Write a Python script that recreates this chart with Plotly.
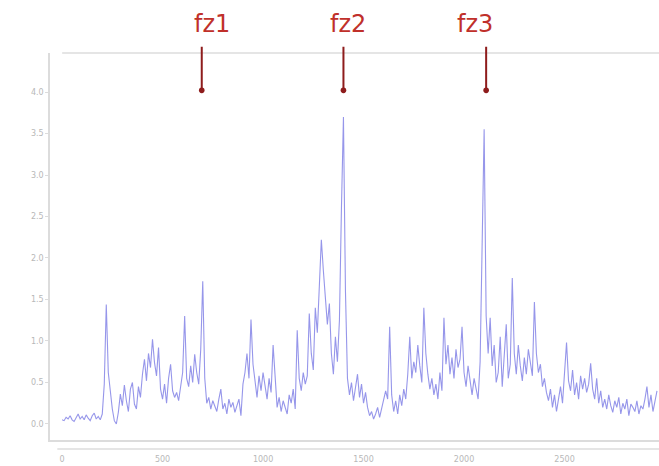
import numpy as np
import plotly.graph_objects as go

# Spectrum amplitude, sampled every 10 units of frequency starting at 0
amplitude = [
    0.05, 0.04, 0.08, 0.06, 0.10, 0.05, 0.03, 0.07, 0.12, 0.06,
    0.09, 0.05, 0.11, 0.07, 0.04, 0.10, 0.13, 0.06, 0.09, 0.05,
    0.12, 0.48, 1.44, 0.62, 0.38, 0.18, 0.04, 0.00, 0.14, 0.36,
    0.22, 0.47, 0.28, 0.15, 0.42, 0.50, 0.24, 0.18, 0.45, 0.32,
    0.60, 0.78, 0.52, 0.85, 0.68, 1.02, 0.74, 0.58, 0.92, 0.42,
    0.30, 0.48, 0.25, 0.55, 0.72, 0.40, 0.32, 0.38, 0.28, 0.45,
    0.62, 1.30, 0.55, 0.45, 0.70, 0.50, 0.84, 0.62, 0.48, 0.90,
    1.72, 0.55, 0.25, 0.32, 0.18, 0.28, 0.20, 0.15, 0.30, 0.42,
    0.18, 0.25, 0.12, 0.30, 0.20, 0.26, 0.14, 0.22, 0.30, 0.10,
    0.48, 0.62, 0.85, 0.55, 1.26, 0.72, 0.50, 0.32, 0.58, 0.40,
    0.62, 0.45, 0.30, 0.55, 0.38, 0.95, 0.50, 0.20, 0.32, 0.15,
    0.28, 0.20, 0.12, 0.35, 0.25, 0.42, 0.18, 1.13, 0.55, 0.40,
    0.62, 0.48, 0.58, 1.33, 0.85, 0.65, 1.40, 1.10, 1.75, 2.22,
    1.85, 1.50, 1.20, 1.45, 0.85, 0.60, 1.05, 0.75, 1.25, 2.60,
    3.70, 1.60, 0.55, 0.35, 0.50, 0.28, 0.45, 0.60, 0.32, 0.48,
    0.25, 0.38, 0.20, 0.10, 0.15, 0.06, 0.12, 0.20, 0.08, 0.18,
    0.28, 0.40, 0.30, 1.17, 0.35, 0.15, 0.28, 0.12, 0.35, 0.22,
    0.42, 0.30, 0.60, 1.05, 0.55, 0.75, 0.62, 0.95, 0.70, 0.50,
    1.40, 0.85, 0.60, 0.42, 0.55, 0.35, 0.48, 0.30, 0.62, 0.40,
    1.28, 0.72, 0.95, 0.60, 0.80, 0.55, 0.90, 0.68, 0.78, 1.17,
    0.62, 0.45, 0.70, 0.50, 0.35, 0.55, 0.40, 0.30, 0.75, 2.40,
    3.55, 1.30, 0.85, 1.28, 0.70, 0.95, 0.50, 0.62, 1.05, 0.45,
    0.80, 1.20, 0.55, 0.72, 1.76, 0.85, 0.60, 0.95, 0.70, 0.52,
    0.80, 0.60, 0.90, 0.75, 0.58, 1.47, 0.85, 0.62, 0.72, 0.45,
    0.55, 0.38, 0.28, 0.42, 0.20, 0.35, 0.15, 0.30, 0.45, 0.25,
    0.60, 0.98, 0.52, 0.40, 0.65, 0.35, 0.50, 0.30, 0.58, 0.42,
    0.55, 0.38, 0.48, 0.73, 0.42, 0.30, 0.55, 0.25, 0.40, 0.20,
    0.30, 0.18, 0.35, 0.22, 0.14, 0.28, 0.20, 0.32, 0.12, 0.25,
    0.18, 0.30, 0.10, 0.24, 0.20, 0.15, 0.28, 0.12, 0.22, 0.18,
    0.30, 0.45, 0.20, 0.35, 0.15, 0.28, 0.40,
]
freq_step = 10
frequency = np.arange(len(amplitude)) * freq_step

# Marked characteristic frequencies
marker_names = ["fz1", "fz2", "fz3"]
marker_freqs = [695, 1400, 2110]
marker_level = 4.02

y_ticks = [0.0, 0.5, 1.0, 1.5, 2.0, 2.5, 3.0, 3.5, 4.0]
x_ticks = [0, 500, 1000, 1500, 2000, 2500, 3000]

fig = go.Figure()
fig.add_trace(go.Scatter(
    x=frequency, y=amplitude, mode="lines",
    line=dict(color="rgba(105,105,225,0.7)", width=1.1),
    hoverinfo="skip", showlegend=False,
))

text_shift = [10, 5, -11]
for name, f, dx in zip(marker_names, marker_freqs, text_shift):
    fig.add_annotation(
        x=f, y=marker_level, xref="x", yref="y",
        ax=0, ay=-45, text="", showarrow=True,
        arrowhead=6, arrowsize=0.7, arrowwidth=2, arrowcolor="#8e1c1c",
    )
    fig.add_annotation(
        x=f, y=1.0, xref="x", yref="paper", yshift=29, xshift=dx,
        text=name, showarrow=False, yanchor="middle",
        font=dict(family="DejaVu Sans", size=24, color="#c0302a"),
    )

axis_grey = "#dcdcdc"
# frame lines above the plot and under the frequency axis
fig.add_shape(type="line", xref="paper", yref="paper", x0=0.02, x1=1, y0=1, y1=1,
              line=dict(color=axis_grey, width=1.5))
fig.add_shape(type="line", xref="paper", yref="paper", x0=0.012, x1=1,
              y0=-0.023, y1=-0.023, line=dict(color=axis_grey, width=1.5))

fig.update_layout(
    width=659, height=466,
    margin=dict(l=50, r=0, t=53, b=26),
    paper_bgcolor="white", plot_bgcolor="white",
    font=dict(family="DejaVu Sans", size=8, color="#b8b8b8"),
    xaxis=dict(
        range=[-60, 2970], tickvals=x_ticks, showgrid=False, zeroline=False,
        showline=True, linecolor=axis_grey, linewidth=1.5,
        ticks="outside", ticklen=11, tickcolor="rgba(0,0,0,0)",
        tickfont=dict(size=8, color="#b8b8b8"),
    ),
    yaxis=dict(
        range=[-0.193, 4.47], tickvals=y_ticks, tickformat=".1f",
        showgrid=False, zeroline=False,
        showline=True, linecolor=axis_grey, linewidth=1.5,
        ticks="outside", ticklen=3, tickcolor=axis_grey,
        tickfont=dict(size=8, color="#b8b8b8"),
    ),
)

fig.write_html("out.html")
